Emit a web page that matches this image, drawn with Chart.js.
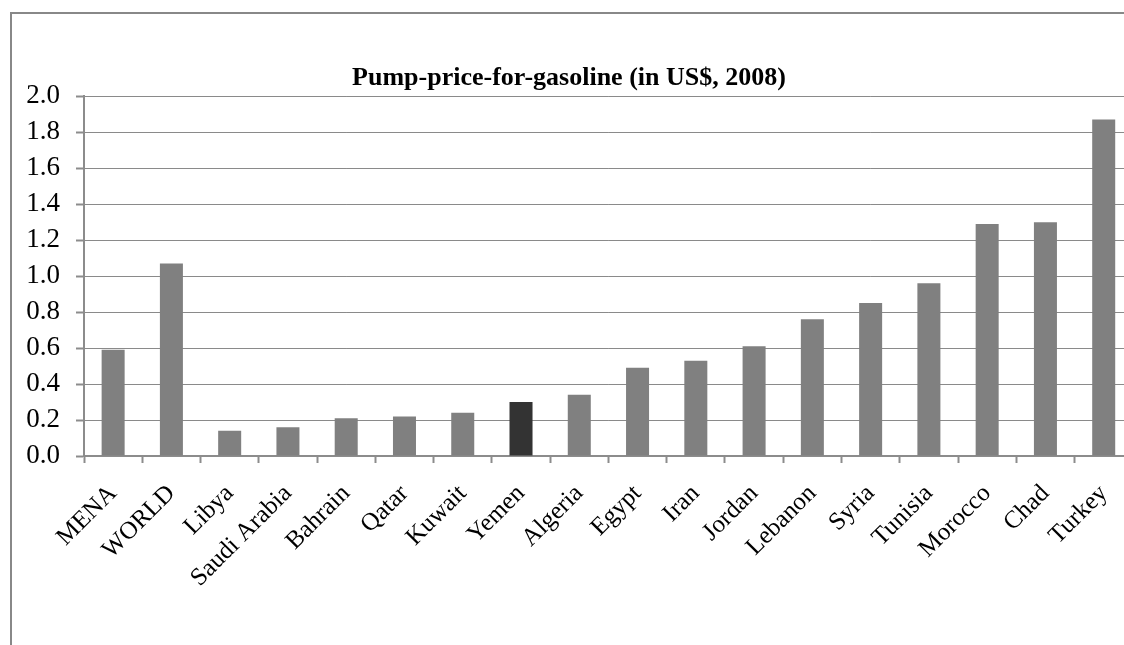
<!DOCTYPE html>
<html>
<head>
<meta charset="utf-8">
<title>Pump-price-for-gasoline</title>
<script src="https://cdn.jsdelivr.net/npm/chart.js@4.4.1/dist/chart.umd.min.js"></script>
<style>
    html, body { margin: 0; padding: 0; background: #fff; overflow: hidden; }
    body { width: 1124px; height: 645px; position: relative; }
    .frame {
        position: absolute; left: 10px; top: 12px;
        width: 1400px; height: 1000px;
        border: 2px solid #888888;
    }
    .wrap { position: absolute; left: 0; top: 0; width: 1141px; height: 645px; }
</style>
</head>
<body>
<div class="frame"></div>
<div class="wrap"><canvas id="chartGasoline"></canvas></div>
<script>
// Dados do gráfico
const countries = ['MENA', 'WORLD', 'Libya', 'Saudi Arabia', 'Bahrain', 'Qatar', 'Kuwait', 'Yemen',
    'Algeria', 'Egypt', 'Iran', 'Jordan', 'Lebanon', 'Syria', 'Tunisia', 'Morocco', 'Chad', 'Turkey'];
const prices = [0.59, 1.07, 0.14, 0.16, 0.21, 0.22, 0.24, 0.30,
    0.34, 0.49, 0.53, 0.61, 0.76, 0.85, 0.96, 1.29, 1.30, 1.87];
const highlighted = ['Yemen'];
const yTicks = [0.0, 0.2, 0.4, 0.6, 0.8, 1.0, 1.2, 1.4, 1.6, 1.8, 2.0];

const barColors = countries.map(c => highlighted.includes(c) ? '#333333' : '#808080');

function initGasolineChart() {
    const ctx = document.getElementById('chartGasoline').getContext('2d');
    new Chart(ctx, {
        type: 'bar',
        data: {
            labels: countries,
            datasets: [{
                label: 'Pump price',
                data: prices,
                backgroundColor: barColors,
                borderWidth: 0,
                categoryPercentage: 1.0,
                barPercentage: 0.395
            }]
        },
        options: {
            responsive: true,
            maintainAspectRatio: false,
            animation: false,
            layout: { padding: { left: 0, right: 3, top: 0, bottom: 0 } },
            plugins: {
                legend: { display: false },
                tooltip: { enabled: false },
                title: {
                    display: true,
                    text: 'Pump-price-for-gasoline (in US$, 2008)',
                    color: '#000',
                    font: { family: 'Liberation Serif', size: 26, weight: 'bold', lineHeight: 1.2 },
                    padding: { top: 63, bottom: 2 }
                }
            },
            scales: {
                x: {
                    grid: {
                        display: true,
                        drawOnChartArea: false,
                        drawTicks: true,
                        tickLength: 7,
                        tickColor: '#8c8c8c',
                        tickWidth: 2
                    },
                    border: { display: true, color: '#8c8c8c', width: 2 },
                    ticks: {
                        autoSkip: false,
                        minRotation: 45,
                        maxRotation: 45,
                        padding: 16,
                        color: '#000',
                        font: { family: 'Liberation Serif', size: 25 }
                    },
                    afterFit: scale => { scale.height = 645 - 456; }
                },
                y: {
                    min: 0,
                    max: 2,
                    afterBuildTicks: scale => { scale.ticks = yTicks.map(v => ({ value: v })); },
                    grid: {
                        color: ctx => ctx.tick.value === 0 ? 'rgba(0,0,0,0)' : '#8a8a8a',
                        lineWidth: 1,
                        borderDash: [2, 2],
                        tickLength: 8,
                        tickColor: '#8c8c8c',
                        tickBorderDash: [],
                        tickWidth: 2
                    },
                    border: { display: true, color: '#8c8c8c', width: 2 },
                    ticks: {
                        padding: 16,
                        color: '#000',
                        font: { family: 'Liberation Serif', size: 27 },
                        callback: v => Number(v).toFixed(1)
                    },
                    afterFit: scale => { scale.width = 84; }
                }
            }
        }
    });
}

window.addEventListener('DOMContentLoaded', () => {
    initGasolineChart();
});
</script>
</body>
</html>
